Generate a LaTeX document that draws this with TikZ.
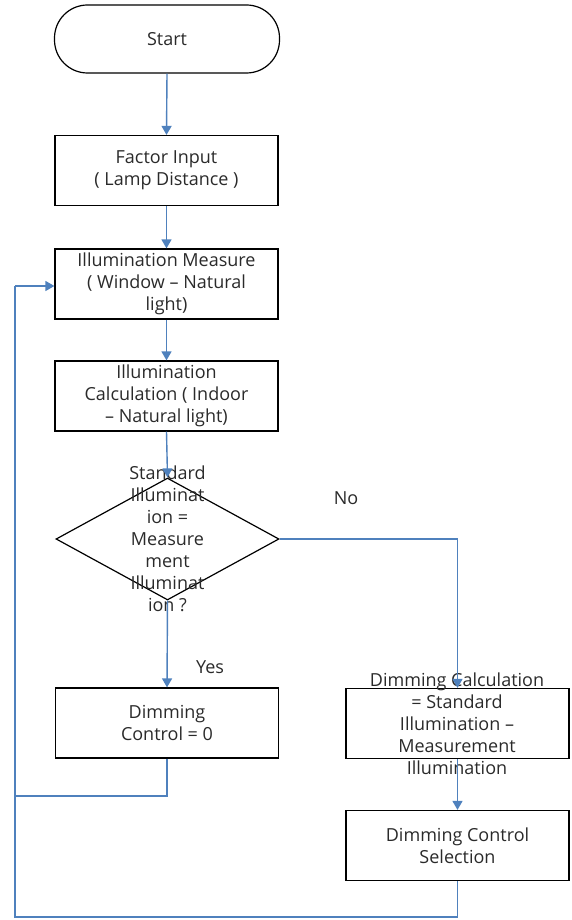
\documentclass[tikz,border=0pt]{standalone}
\usepackage{fontspec}
\setmainfont{Open Sans}
\usetikzlibrary{shapes.geometric,arrows.meta}
\definecolor{conn}{HTML}{4F81BD}
\definecolor{txt}{HTML}{2A2A2A}
\tikzset{
  box/.style={draw=black,line width=1.2pt,minimum width=223pt,minimum height=70pt,inner sep=0pt},
  term/.style={draw=black,line width=1.2pt,minimum width=225pt,minimum height=68pt,inner sep=0pt,rounded corners=33pt},
  dec/.style={draw=black,line width=1.2pt,shape=diamond,minimum width=223pt,minimum height=122pt,inner sep=0pt},
  lbl/.style={text=txt,font=\fontsize{18}{22}\selectfont,align=center,inner sep=0pt},
  conn/.style={draw=conn,line width=1.4pt},
  arr/.style={conn,-{Triangle[width=10pt,length=9pt]}}
}
\begin{document}
\begin{tikzpicture}[x=1pt,y=-1pt]
\useasboundingbox (0,0) rectangle (572,920);
% shapes
\node[term] (start) at (167,39) {};
\node[box] (factor) at (166.5,170.5) {};
\node[box] (measure) at (166.5,284) {};
\node[box] (calc) at (166.5,396) {};
\node[dec] (dec) at (167.5,539) {};
\node[box] (dim0) at (167,723) {};
\node[box] (dcalc) at (457.5,723.5) {};
\node[box] (dsel) at (457.5,845.5) {};
% texts
\node[lbl] (tstart) at (start.center) {Start};
\node[lbl] (tfactor) at (factor.center) {Factor Input\\( Lamp Distance )};
\node[lbl] (tmeasure) at (measure.center) {Illumination Measure\\( Window -- Natural\\light)};
\node[lbl] (tcalc) at (calc.center) {Illumination\\Calculation ( Indoor\\-- Natural light)};
\node[lbl] (tdec) at (dec.center) {Standard\\Illuminat\\ion =\\Measure\\ment\\Illuminat\\ion ?};
\node[lbl] (tdim0) at (dim0.center) {Dimming\\Control = 0};
\node[lbl] (tdcalc) at (457,724) {Dimming Calculation\\= Standard\\Illumination --\\Measurement\\Illumination};
\node[lbl] (tdsel) at (dsel.center) {Dimming Control\\Selection};
\node[lbl] (no) at (346,498) {No};
\node[lbl] (yes) at (210,667) {Yes};
% loop coordinates
\coordinate (bl) at (15,917);
\coordinate (ml) at (15,796);
\coordinate (tl) at (15,286);
% connectors
\draw[arr] (start.south) -- (factor.north);
\draw[arr] (factor.south) -- (measure.north);
\draw[arr] (measure.south) -- (calc.north);
\draw[arr] (calc.south) -- (dec.north);
\draw[arr] (dec.south) -- (dim0.north);
\draw[arr] (dec.east) -| (dcalc.north);
\draw[arr] (dcalc.south) -- (dsel.north);
\draw[conn] (dsel.south) |- (bl) -- (tl);
\draw[arr] (tl) -- (measure.west |- tl);
\draw[conn] (dim0.south) |- (ml);
\end{tikzpicture}
\end{document}
